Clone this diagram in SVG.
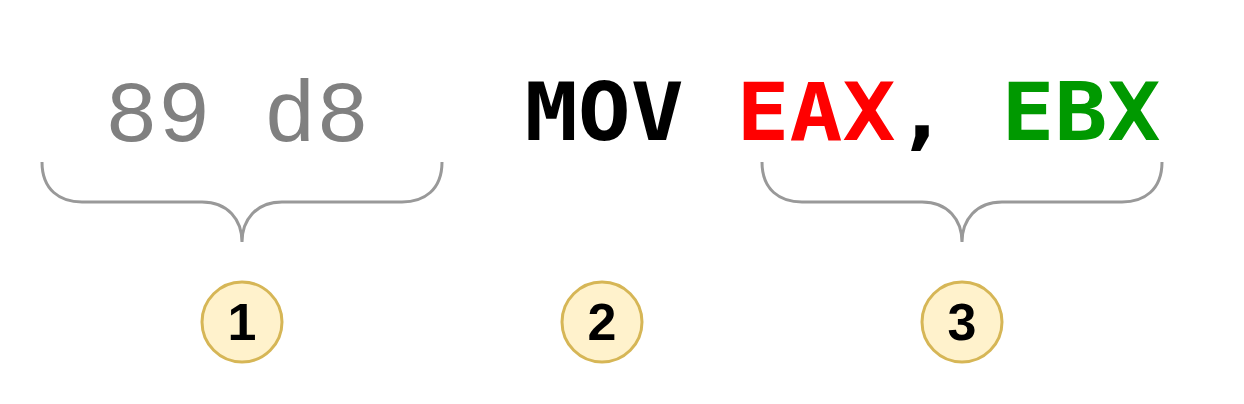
<svg xmlns="http://www.w3.org/2000/svg" width="1244" height="404" viewBox="0 0 1244 404">
<style>
.hex{font-family:"Liberation Mono",monospace;font-size:88px;fill:#808080}
.asm{font-family:"DejaVu Sans Mono",monospace;font-size:80px;font-weight:bold}
.brace{fill:none;stroke:#999999;stroke-width:3}
.badge{fill:#fff2cc;stroke:#d6b656;stroke-width:3}
.num{font-family:"Liberation Sans",Arial,sans-serif;font-size:52px;font-weight:bold;fill:#000;text-anchor:middle}
</style>
<rect width="1244" height="404" fill="#ffffff"/>
<g id="hex-bytes"><text class="hex" x="237" y="141" text-anchor="middle">89 d8</text></g>
<g id="instruction" transform="scale(1.1,1)">
<text class="asm" x="477" y="140" xml:space="preserve"><tspan fill="#000000">MOV </tspan><tspan fill="#ff0000">EAX</tspan><tspan fill="#000000">, </tspan><tspan fill="#009900">EBX</tspan></text>
</g>
<g id="connectors">
<path class="brace" d="M42,162 C42,190 60,202 82,202 L202,202 C228,202 242,220 242,242 C242,220 256,202 282,202 L402,202 C424,202 442,190 442,162"/>
<path class="brace" d="M762,162 C762,190 780,202 802,202 L922,202 C948,202 962,220 962,242 C962,220 976,202 1002,202 L1122,202 C1144,202 1162,190 1162,162"/>
</g>
<g id="badge1"><circle class="badge" cx="242" cy="322" r="40"/><text class="num" x="242" y="340">1</text></g>
<g id="badge2"><circle class="badge" cx="602" cy="322" r="40"/><text class="num" x="602" y="340">2</text></g>
<g id="badge3"><circle class="badge" cx="962" cy="322" r="40"/><text class="num" x="962" y="340">3</text></g>
</svg>
